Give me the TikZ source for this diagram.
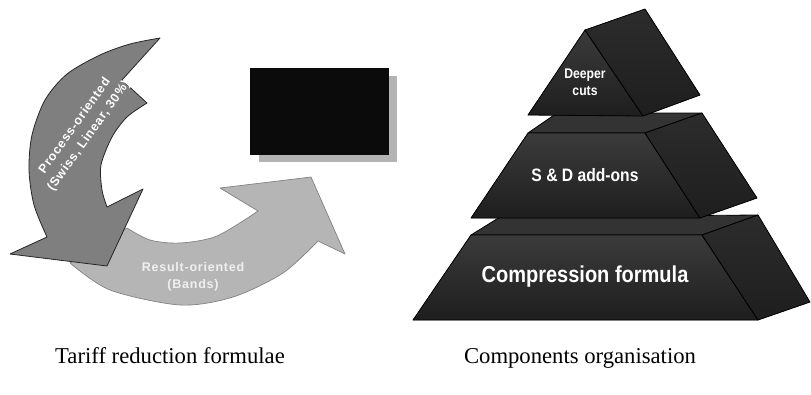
\documentclass[tikz,border=0pt]{standalone}
\usepackage{fontspec}
\setmainfont{Liberation Serif}
\newfontfamily\pyrfont{Liberation Sans}[FakeStretch=0.87]
\newfontfamily\arrfont{Liberation Sans}[LetterSpace=6]
\definecolor{darkarrow}{HTML}{7F7F7F}
\definecolor{lightarrow}{HTML}{B5B5B5}
\definecolor{shadowgray}{HTML}{B3B3B3}
\definecolor{blackbox}{HTML}{0B0B0B}
\definecolor{facetop}{HTML}{3B3B3B}
\definecolor{facebot}{HTML}{1E1E1E}
\definecolor{facemid}{HTML}{2C2C2C}
\definecolor{facelid}{HTML}{333333}
\tikzset{
  darkarr/.style={fill=darkarrow, draw=black!85, line width=0.6pt, line join=round},
  lightarr/.style={fill=lightarrow, draw=black!50, line width=0.5pt, line join=round},
  frontface/.style={top color=facetop, bottom color=facebot, draw=black, line width=0.6pt, line join=round},
  sideface/.style={top color=facemid, bottom color=facebot, draw=black, line width=0.6pt, line join=round},
  topface/.style={fill=facelid, draw=black, line width=0.6pt, line join=round},
  pyrtext/.style={text=white, align=center, inner sep=0pt},
  arrtext/.style={text=white, align=center, inner sep=0pt, font=\arrfont\bfseries\fontsize{9.4}{12.9}\selectfont},
  caption/.style={inner sep=0pt, font=\fontsize{17}{19}\selectfont}
}
\begin{document}
\begin{tikzpicture}[x=0.75pt,y=-0.75pt]
\useasboundingbox (0,0) rectangle (811,394);

% black box with shadow
\fill[shadowgray] (259,76) rectangle (397,162);
\fill[blackbox] (250,68) rectangle (389,155);

% light arrow (result-oriented)
\filldraw[lightarr] (127,228) -- (70,263)
  -- plot[smooth] coordinates {(70,263) (110,290) (180,305) (233,297) (283,273) (318,241)}
  -- (345,254) -- (311,177) -- (220,188) -- (258,211)
  -- plot[smooth] coordinates {(258,211) (217,236) (180,243) (150,240) (127,228)} -- cycle;

% dark arrow (process-oriented)
\filldraw[darkarr] (160,38) -- (122,80) -- (147,103)
  -- plot[smooth] coordinates {(147,103) (127,117) (112,137) (101,165) (102,190) (107,207)}
  -- (143,189) -- (107,266) -- (10,254) -- (47,237)
  -- plot[smooth] coordinates {(47,237) (34,205) (29,170) (32,135) (45,100) (67,74) (100,55) (130,44) (160,38)} -- cycle;

\node[arrtext, rotate=54.5] (proc) at (82,131) {Process-oriented\\(Swiss, Linear, 30\%)};
\node[arrtext, text=white!94!black] (res) at (193,277) {Result-oriented\\(Bands)};

% pyramid: bottom block
\filldraw[topface] (471,235) -- (500,217) -- (758,215) -- (702,235) -- cycle;
\filldraw[frontface] (471,235) -- (702,235) -- (758,320) -- (413,320) -- cycle;
\filldraw[sideface] (702,235) -- (758,215) -- (810,302) -- (758,320) -- cycle;
% middle block
\filldraw[topface] (528,133) -- (557,113) -- (702,113) -- (645,133) -- cycle;
\filldraw[frontface] (528,133) -- (645,133) -- (700,218) -- (471,218) -- cycle;
\filldraw[sideface] (645,133) -- (702,113) -- (757,198) -- (700,218) -- cycle;
% top block
\filldraw[frontface] (585,30) -- (643,116) -- (528,115) -- cycle;
\filldraw[sideface] (585,30) -- (645,9) -- (700,95) -- (643,116) -- cycle;

\node[pyrtext, font=\pyrfont\bfseries\fontsize{10.5}{12.75}\selectfont] (deep) at (585,82) {Deeper\\cuts};
\node[pyrtext, font=\pyrfont\bfseries\fontsize{13.5}{16}\selectfont] (sd) at (585,175) {S \& D add-ons};
\node[pyrtext, font=\pyrfont\bfseries\fontsize{17.25}{20}\selectfont] (comp) at (585,277) {Compression formula};

% captions
\node[caption, anchor=base] (cap1) at (170,363) {Tariff reduction formulae};
\node[caption, anchor=base] (cap2) at (580,363) {Components organisation};
\end{tikzpicture}
\end{document}
